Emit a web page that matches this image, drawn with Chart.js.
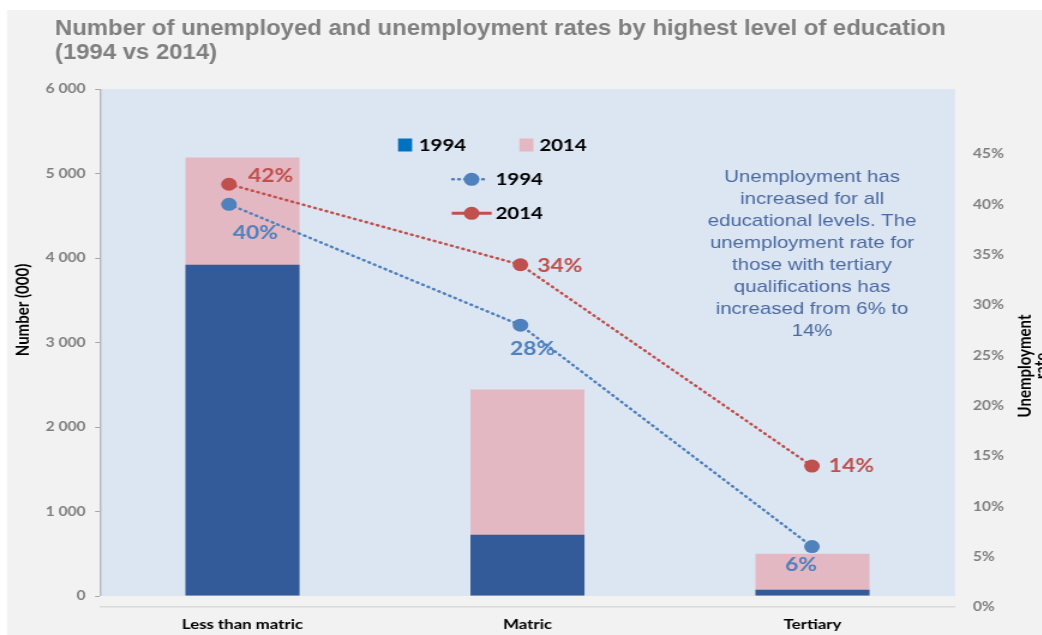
<!DOCTYPE html>
<html lang="en">
<head>
    <meta charset="UTF-8">
    <title>Unemployment by education</title>
    <script src="https://cdn.jsdelivr.net/npm/chart.js"></script>
    <style>
        html, body { margin: 0; padding: 0; background: #fff; overflow: hidden; }
        /* the reference is stretched sideways, so draw narrow and stretch */
        #wrap { width: 868px; height: 635px; transform: scaleX(1.2); transform-origin: 0 0; }
    </style>
</head>
<body>
<div id="wrap"><canvas id="myChart" width="868" height="635"></canvas></div>
<script>
    const categories = ['Less than matric', 'Matric', 'Tertiary'];
    const unemployed1994 = [3920, 725, 75];
    const unemployed2014 = [5190, 2445, 500];
    const rate1994 = [40, 28, 6];
    const rate2014 = [42, 34, 14];
    const numberTicks = [0, 1000, 2000, 3000, 4000, 5000, 6000];
    const rateTicks = [0, 5, 10, 15, 20, 25, 30, 35, 40, 45];
    const titleLines = ['Number of unemployed and unemployment rates by highest level of education', '(1994 vs 2014)'];
    const noteLines = ['Unemployment has', 'increased for all', 'educational levels. The', 'unemployment rate for',
        'those with tertiary', 'qualifications has', 'increased from 6% to', '14%'];

    const BLUE_BAR = '#335a99';
    const PINK_BAR = '#e4b8c2';
    const BLUE_LINE = '#4f81bd';
    const RED_LINE = '#c0504d';
    const CAL = 'Lato, "Open Sans", sans-serif';
    const ARIAL = '"Liberation Sans", Arial, sans-serif';

    // label nudges (dx, dy) relative to each point, as placed in the original
    const redLabelShift = [[16, -8], [14, 1], [14, 0]];
    const blueLabelShift = [[22, 29], [10, 24], [-9, 18]];

    const decor = {
        id: 'decor',
        beforeDraw(chart) {
            const ctx = chart.ctx;
            const ca = chart.chartArea;
            const y0 = chart.scales.y.getPixelForValue(0);
            ctx.save();
            ctx.fillStyle = '#fff';
            ctx.fillRect(0, 0, chart.width, chart.height);
            ctx.fillStyle = '#f2f2f2';
            ctx.fillRect(5.8, 10, chart.width, chart.height);
            ctx.fillStyle = '#dce6f2';
            ctx.fillRect(ca.left, ca.top, ca.right - ca.left, y0 - ca.top);
            ctx.restore();
        },
        afterDatasetsDraw(chart) {
            const ctx = chart.ctx;
            ctx.save();
            ctx.font = 'bold 19px ' + CAL;
            ctx.textBaseline = 'middle';
            // 2014 labels to the right of the points
            ctx.fillStyle = RED_LINE;
            ctx.textAlign = 'left';
            chart.getDatasetMeta(3).data.forEach((pt, i) => {
                const [dx, dy] = redLabelShift[i];
                ctx.fillText(rate2014[i] + '%', pt.x + dx, pt.y + dy);
            });
            // 1994 labels below the points
            ctx.fillStyle = BLUE_LINE;
            ctx.textAlign = 'center';
            chart.getDatasetMeta(2).data.forEach((pt, i) => {
                const [dx, dy] = blueLabelShift[i];
                ctx.fillText(rate1994[i] + '%', pt.x + dx, pt.y + dy);
            });
            ctx.restore();
        },
        afterDraw(chart) {
            const ctx = chart.ctx;
            const ca = chart.chartArea;
            const y0 = chart.scales.y.getPixelForValue(0);
            ctx.save();

            // left axis line stops at zero
            ctx.strokeStyle = '#a6a6a6';
            ctx.lineWidth = 1;
            ctx.beginPath();
            ctx.moveTo(ca.left + 0.5, ca.top);
            ctx.lineTo(ca.left + 0.5, y0);
            ctx.stroke();

            // title
            ctx.fillStyle = '#7f7f7f';
            ctx.font = 'bold 22px ' + ARIAL;
            ctx.textAlign = 'left';
            ctx.textBaseline = 'middle';
            ctx.save();
            ctx.translate(45.8, 0);
            ctx.scale(0.905, 1);
            ctx.fillText(titleLines[0], 0, 29);
            ctx.fillText(titleLines[1], 0, 53);
            ctx.restore();

            // axis titles
            ctx.fillStyle = '#000';
            ctx.font = 'bold 15px ' + CAL;
            ctx.textAlign = 'center';
            ctx.save();
            ctx.translate(19, 310);
            ctx.rotate(-Math.PI / 2);
            ctx.fillText('Number (000)', 0, 0);
            ctx.restore();
            ctx.save();
            ctx.translate(854, 366);
            ctx.rotate(-Math.PI / 2);
            ctx.fillText('Unemployment', 0, 0);
            ctx.fillText('rate', 0, 14);
            ctx.restore();

            // legend
            ctx.font = 'bold 17px ' + CAL;
            ctx.textAlign = 'left';
            ctx.fillStyle = '#0070c0';
            ctx.fillRect(331.7, 138.5, 11.7, 13);
            ctx.fillStyle = PINK_BAR;
            ctx.fillRect(432.8, 138.5, 11.7, 13);
            ctx.fillStyle = '#000';
            ctx.fillText('1994', 349, 145.5);
            ctx.fillText('2014', 449.4, 145.5);

            ctx.lineWidth = 2.5;
            ctx.lineCap = 'round';
            ctx.strokeStyle = BLUE_LINE;
            ctx.setLineDash([1, 4]);
            ctx.beginPath();
            ctx.moveTo(377, 179.3);
            ctx.lineTo(405, 179.3);
            ctx.stroke();
            ctx.setLineDash([]);
            ctx.strokeStyle = RED_LINE;
            ctx.lineCap = 'butt';
            ctx.lineWidth = 3;
            ctx.beginPath();
            ctx.moveTo(376.4, 213.3);
            ctx.lineTo(409.7, 213.3);
            ctx.stroke();
            [[BLUE_LINE, 179.3], [RED_LINE, 213.3]].forEach(([c, y]) => {
                ctx.fillStyle = c;
                ctx.beginPath();
                ctx.arc(393, y, 6.5, 0, Math.PI * 2);
                ctx.fill();
            });
            ctx.fillStyle = '#000';
            ctx.fillText('1994', 413, 180);
            ctx.fillText('2014', 413, 214);

            // note
            ctx.fillStyle = '#4a69a0';
            ctx.font = '17px ' + ARIAL;
            ctx.textAlign = 'center';
            noteLines.forEach((line, i) => {
                ctx.fillText(line, 676.7, 177 + i * 22);
            });

            ctx.restore();
        }
    };

    function spaced(v) {
        return String(v).replace(/\B(?=(\d{3})+(?!\d))/g, ' ');
    }

    const ctx = document.getElementById('myChart').getContext('2d');
    new Chart(ctx, {
        data: {
            labels: categories,
            datasets: [
                {
                    type: 'bar', label: '1994', data: unemployed1994, backgroundColor: BLUE_BAR,
                    grouped: false, barPercentage: 0.4, categoryPercentage: 1, order: 1
                },
                {
                    type: 'bar', label: '2014', data: unemployed2014, backgroundColor: PINK_BAR,
                    grouped: false, barPercentage: 0.4, categoryPercentage: 1, order: 2
                },
                {
                    type: 'line', label: '1994', xAxisID: 'xl', yAxisID: 'yr', order: 0,
                    data: rate1994.map((v, i) => ({ x: i, y: v })),
                    borderColor: BLUE_LINE, borderWidth: 2.5, borderDash: [1, 4], borderCapStyle: 'round',
                    pointRadius: 6.5, pointBackgroundColor: BLUE_LINE, pointBorderWidth: 0, tension: 0
                },
                {
                    type: 'line', label: '2014', xAxisID: 'xl', yAxisID: 'yr', order: 0,
                    data: rate2014.map((v, i) => ({ x: i, y: v })),
                    borderColor: RED_LINE, borderWidth: 2.5, borderDash: [1, 4], borderCapStyle: 'round',
                    pointRadius: 6.5, pointBackgroundColor: RED_LINE, pointBorderWidth: 0, tension: 0
                }
            ]
        },
        options: {
            responsive: false,
            devicePixelRatio: 1,
            animation: false,
            layout: { padding: { top: 89, left: 0, right: 0, bottom: 0 } },
            plugins: { legend: { display: false }, tooltip: { enabled: false } },
            scales: {
                x: {
                    type: 'category',
                    grid: { display: false },
                    border: { display: true, color: '#d9d9d9', width: 1.5 },
                    ticks: { color: '#000', font: { family: CAL, size: 14, weight: 'bold' }, padding: 1 },
                    afterFit(scale) { scale.height = 28; }
                },
                xl: { type: 'linear', display: false, min: -0.4426, max: 2.4907 },
                y: {
                    position: 'left',
                    min: -130,
                    max: 6000,
                    afterBuildTicks(scale) { scale.ticks = numberTicks.map(v => ({ value: v })); },
                    grid: { drawOnChartArea: false, drawTicks: true, tickLength: 4, color: '#a6a6a6' },
                    border: { display: false },
                    ticks: {
                        color: '#7f7f7f', padding: 8,
                        font: { family: CAL, size: 13, weight: 'bold' },
                        callback: v => spaced(v)
                    },
                    afterFit(scale) { scale.width = 83.3; }
                },
                yr: {
                    position: 'right',
                    min: 0,
                    max: 51.46,
                    afterBuildTicks(scale) { scale.ticks = rateTicks.map(v => ({ value: v })); },
                    grid: { display: false, drawTicks: false },
                    border: { display: false },
                    ticks: {
                        color: '#7f7f7f', padding: 15,
                        font: { family: CAL, size: 13, weight: 'bold' },
                        callback: v => v + '%'
                    },
                    afterFit(scale) { scale.width = 72.2; }
                }
            }
        },
        plugins: [decor]
    });
</script>
</body>
</html>
